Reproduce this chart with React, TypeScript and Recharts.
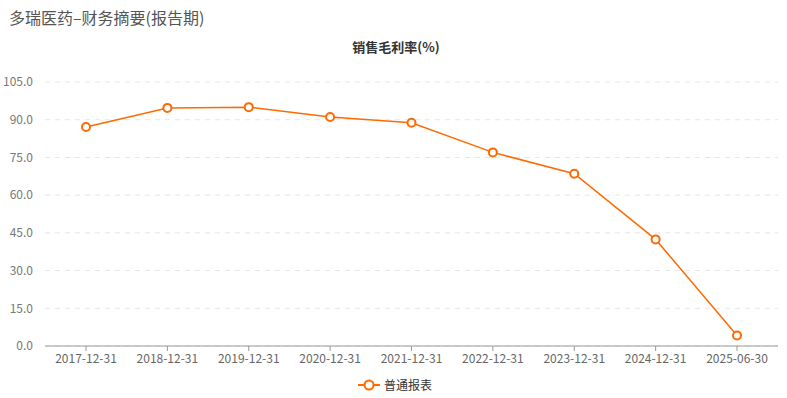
import { LineChart, Line, XAxis, YAxis, CartesianGrid } from "recharts"

const periods = [
  "2017-12-31",
  "2018-12-31",
  "2019-12-31",
  "2020-12-31",
  "2021-12-31",
  "2022-12-31",
  "2023-12-31",
  "2024-12-31",
  "2025-06-30",
]
const grossMargin = [87.1, 94.7, 95.0, 91.1, 88.8, 77.0, 68.5, 42.4, 4.2]
const yTicks = [0, 15, 30, 45, 60, 75, 90, 105]

const pageTitle = "多瑞医药–财务摘要(报告期)"
const chartTitle = "销售毛利率(%)"
const seriesName = "普通报表"

const ORANGE = "#ff6a00"
const FONT = "'Noto Sans CJK SC', 'Noto Sans', sans-serif"

const data = periods.map((p, i) => ({ period: p, value: grossMargin[i] }))

export default function App() {
  return (
    <div
      style={{
        position: "absolute",
        left: 0,
        top: 0,
        width: 787,
        height: 398,
        background: "#fff",
        fontFamily: FONT,
      }}
    >
      <div style={{ position: "absolute", left: 9, top: 5, fontSize: 16, color: "#555" }}>
        {pageTitle}
      </div>
      <div
        style={{
          position: "absolute",
          left: 0,
          width: 792,
          top: 37,
          textAlign: "center",
          fontSize: 13,
          fontWeight: "bold",
          color: "#333",
        }}
      >
        {chartTitle}
      </div>
      <LineChart
        width={787}
        height={398}
        data={data}
        margin={{ top: 82, right: 9, bottom: 22, left: 0 }}
      >
        <CartesianGrid vertical={false} stroke="#e6e6e6" strokeDasharray="5 5" />
        <XAxis
          dataKey="period"
          height={30}
          stroke="#999"
          padding={{ left: 41, right: 41 }}
          tickSize={5}
          tick={{ fill: "#666", fontSize: 12, fontFamily: FONT }}
          tickMargin={3}
          interval={0}
        />
        <YAxis
          width={45}
          domain={[0, 105]}
          ticks={yTicks}
          axisLine={false}
          tickLine={false}
          tickMargin={6}
          tickFormatter={(v: number) => v.toFixed(1)}
          tick={{ fill: "#777", fontSize: 12, fontFamily: FONT }}
        />
        <Line
          dataKey="value"
          type="linear"
          stroke={ORANGE}
          strokeWidth={1.5}
          dot={{ r: 4, fill: "#fff", stroke: ORANGE, strokeWidth: 2 }}
          activeDot={false}
          isAnimationActive={false}
        />
      </LineChart>
      <div
        style={{
          position: "absolute",
          left: 358,
          top: 376,
          display: "flex",
          alignItems: "center",
          fontSize: 12,
          color: "#333",
        }}
      >
        <svg width={22} height={14} style={{ marginRight: 4 }}>
          <line x1={0} y1={7} x2={22} y2={7} stroke={ORANGE} strokeWidth={2} />
          <circle cx={11} cy={7} r={4.5} fill="#fff" stroke={ORANGE} strokeWidth={2} />
        </svg>
        <span>{seriesName}</span>
      </div>
    </div>
  )
}
